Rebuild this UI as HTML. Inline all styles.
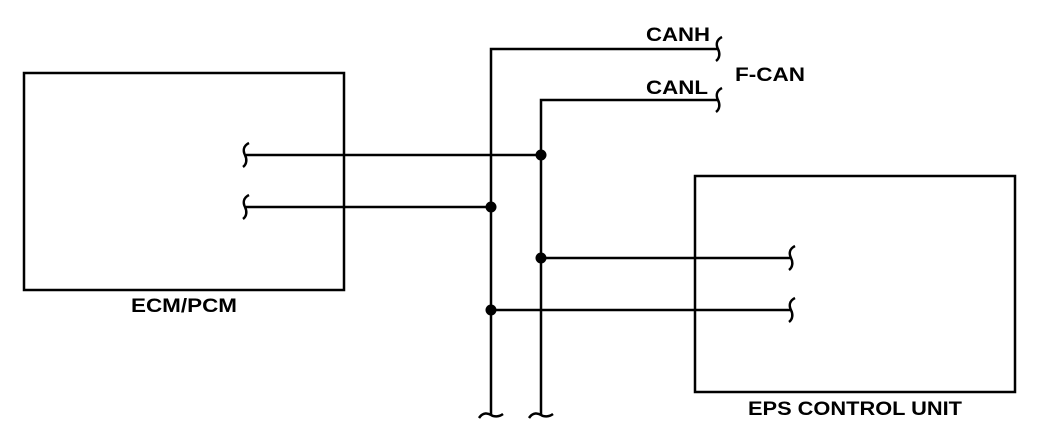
<!DOCTYPE html>
<html><head><style>
body{margin:0;background:#fff}
svg{display:block}
text{font-family:"Liberation Sans",Arial,sans-serif;font-weight:bold;font-size:19px;fill:#000}
</style></head><body>
<svg width="1056" height="444" viewBox="0 0 1056 444" xmlns="http://www.w3.org/2000/svg">
<g fill="none" stroke="#000" stroke-width="2.5">
<rect x="24" y="73" width="320" height="217"/>
<rect x="695" y="176" width="320" height="216"/>
<polyline points="718,49 491,49 491,415"/>
<polyline points="718,100 541,100 541,415"/>
<line x1="246" y1="155" x2="541" y2="155"/>
<line x1="246" y1="207" x2="491" y2="207"/>
<line x1="541" y1="258" x2="791" y2="258"/>
<line x1="491" y1="310" x2="791" y2="310"/>
<path d="M722,37 C716,40 716,45 718,49 C720,53 720,58 716,61"/>
<path d="M722,88 C716,91 716,96 718,100 C720,104 720,109 716,112"/>
<path d="M249,143 C243,146 243,151 245,155 C247,159 247,164 243,167"/>
<path d="M249,195 C243,198 243,203 245,207 C247,211 247,216 243,219"/>
<path d="M795,246 C789,249 789,254 791,258 C793,262 793,267 789,270"/>
<path d="M795,298 C789,301 789,306 791,310 C793,314 793,319 789,322"/>
<path d="M479,418 C483,412 488,413 491,415 C494,417 499,417 503,414"/>
<path d="M529,418 C533,412 538,413 541,415 C544,417 549,417 553,414"/>
</g>
<g fill="#000">
<circle cx="541" cy="155" r="5.5"/>
<circle cx="491" cy="207" r="5.5"/>
<circle cx="541" cy="258" r="5.5"/>
<circle cx="491" cy="310" r="5.5"/>
</g>
<text x="646" y="41" textLength="64" lengthAdjust="spacingAndGlyphs">CANH</text>
<text x="646" y="94" textLength="62" lengthAdjust="spacingAndGlyphs">CANL</text>
<text x="735" y="81" textLength="70" lengthAdjust="spacingAndGlyphs">F-CAN</text>
<text x="131" y="312" textLength="106" lengthAdjust="spacingAndGlyphs">ECM/PCM</text>
<text x="748" y="415" textLength="214" lengthAdjust="spacingAndGlyphs">EPS CONTROL UNIT</text>
</svg>
</body></html>
